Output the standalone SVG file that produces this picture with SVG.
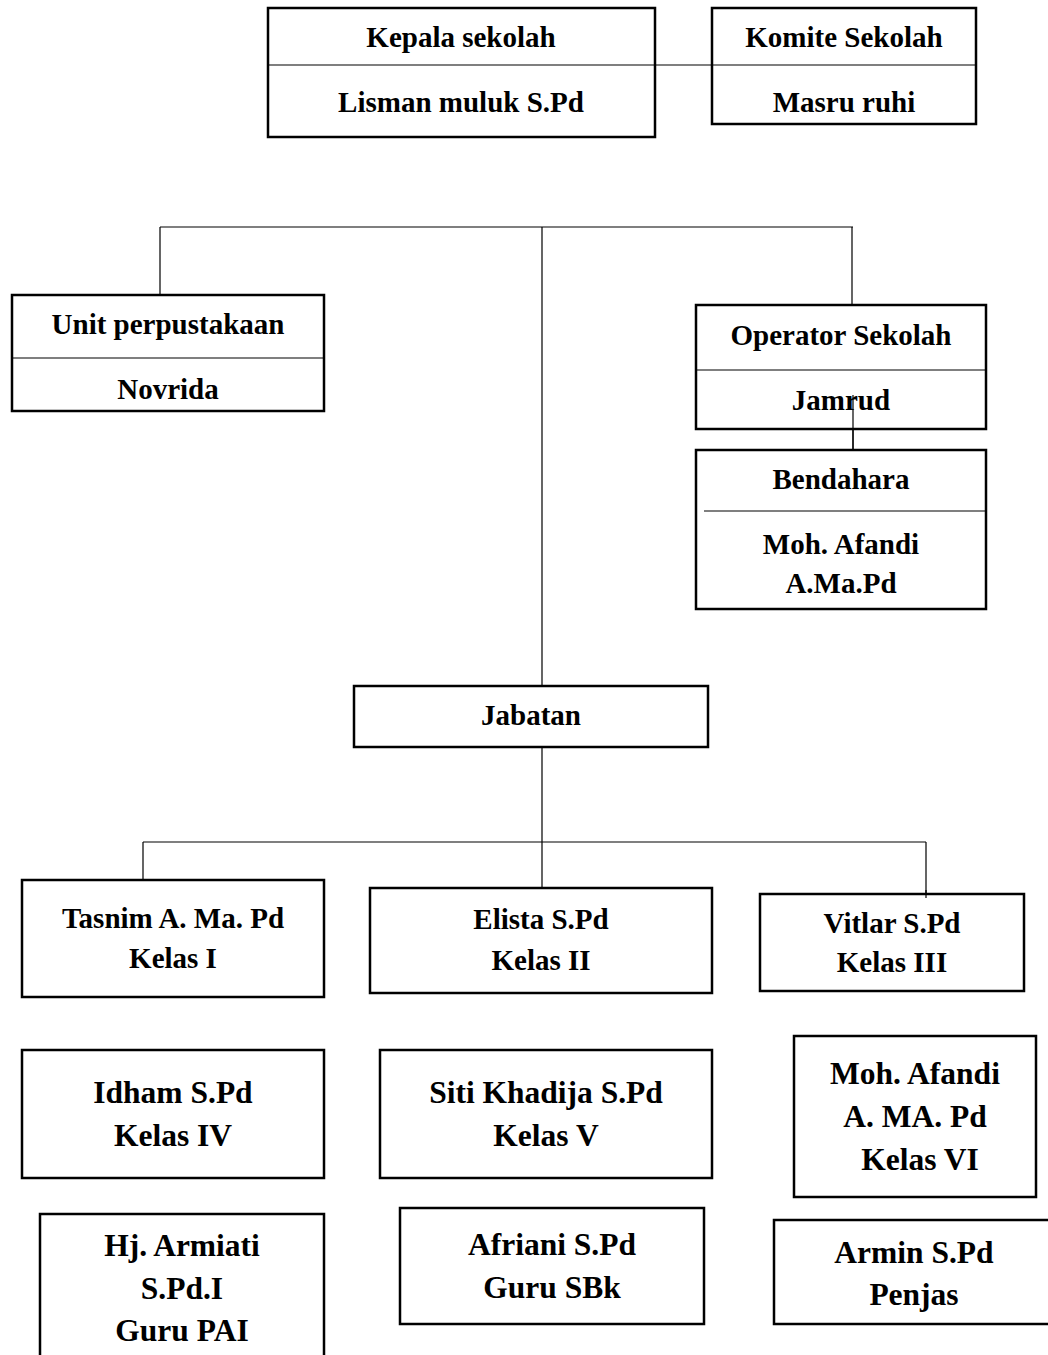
<svg xmlns="http://www.w3.org/2000/svg" width="1048" height="1355" viewBox="0 0 1048 1355">
<style>
.box{fill:#fff;stroke:#000;stroke-width:2.5}
.div{stroke:#000;stroke-width:1.2}
.con{stroke:#000;stroke-width:1.2;fill:none}
text{font-family:"Liberation Serif","Times New Roman",serif;font-weight:bold;text-anchor:middle;fill:#000}
.t{font-size:29px}
.b{font-size:31.5px}
</style>
<rect width="1048" height="1355" fill="#fff"/>
<g id="connectors">
<path class="con" d="M655 65H712"/>
<path class="con" d="M160 227H853M160 227V294M852 227V304M542 227V686"/>
<path class="con" d="M853 395V450"/>
<path class="con" d="M542 747V888M143 842H926M143 842V880M926 842V898"/>
</g>
<g id="kepala">
<rect class="box" x="268" y="8" width="387" height="129"/>
<line class="div" x1="268" y1="65" x2="655" y2="65"/>
<text class="t" x="461" y="47">Kepala sekolah</text>
<text class="t" x="461" y="112">Lisman muluk S.Pd</text>
</g>
<g id="komite">
<rect class="box" x="712" y="8" width="264" height="116"/>
<line class="div" x1="712" y1="65" x2="976" y2="65"/>
<text class="t" x="844" y="47">Komite Sekolah</text>
<text class="t" x="844" y="112">Masru ruhi</text>
</g>
<g id="perpustakaan">
<rect class="box" x="12" y="295" width="312" height="116"/>
<line class="div" x1="12" y1="358" x2="324" y2="358"/>
<text class="t" x="168" y="334">Unit perpustakaan</text>
<text class="t" x="168" y="399">Novrida</text>
</g>
<g id="operator">
<rect class="box" x="696" y="305" width="290" height="124"/>
<line class="div" x1="696" y1="370" x2="986" y2="370"/>
<text class="t" x="841" y="345">Operator Sekolah</text>
<text class="t" x="841" y="410">Jamrud</text>
</g>
<g id="bendahara">
<rect class="box" x="696" y="450" width="290" height="159"/>
<line class="div" x1="704" y1="511" x2="986" y2="511"/>
<text class="t" x="841" y="489">Bendahara</text>
<text class="t" x="841" y="554">Moh. Afandi</text>
<text class="t" x="841" y="593">A.Ma.Pd</text>
</g>
<line class="con" x1="853" y1="395" x2="853" y2="450"/>
<g id="jabatan">
<rect class="box" x="354" y="686" width="354" height="61"/>
<text class="t" x="531" y="725">Jabatan</text>
</g>
<g id="tasnim">
<rect class="box" x="22" y="880" width="302" height="117"/>
<text class="t" x="173" y="928">Tasnim A. Ma. Pd</text>
<text class="t" x="173" y="968">Kelas I</text>
</g>
<g id="elista">
<rect class="box" x="370" y="888" width="342" height="105"/>
<text class="t" x="541" y="929">Elista S.Pd</text>
<text class="t" x="541" y="970">Kelas II</text>
</g>
<g id="vitlar">
<rect class="box" x="760" y="894" width="264" height="97"/>
<text class="t" x="892" y="933">Vitlar S.Pd</text>
<text class="t" x="892" y="972">Kelas III</text>
</g>
<line class="con" x1="926" y1="890" x2="926" y2="898"/>
<g id="idham">
<rect class="box" x="22" y="1050" width="302" height="128"/>
<text class="b" x="173" y="1103">Idham S.Pd</text>
<text class="b" x="173" y="1146">Kelas IV</text>
</g>
<g id="siti">
<rect class="box" x="380" y="1050" width="332" height="128"/>
<text class="b" x="546" y="1103">Siti Khadija S.Pd</text>
<text class="b" x="546" y="1146">Kelas V</text>
</g>
<g id="mohafandi">
<rect class="box" x="794" y="1036" width="242" height="161"/>
<text class="b" x="915" y="1084">Moh. Afandi</text>
<text class="b" x="915" y="1127">A. MA. Pd</text>
<text class="b" x="920" y="1170">Kelas VI</text>
</g>
<g id="armiati">
<rect class="box" x="40" y="1214" width="284" height="150"/>
<text class="b" x="182" y="1256">Hj. Armiati</text>
<text class="b" x="182" y="1299">S.Pd.I</text>
<text class="b" x="182" y="1341">Guru PAI</text>
</g>
<g id="afriani">
<rect class="box" x="400" y="1208" width="304" height="116"/>
<text class="b" x="552" y="1255">Afriani S.Pd</text>
<text class="b" x="552" y="1298">Guru SBk</text>
</g>
<g id="armin">
<rect class="box" x="774" y="1220" width="290" height="104"/>
<text class="b" x="914" y="1263">Armin S.Pd</text>
<text class="b" x="914" y="1305">Penjas</text>
</g>
</svg>
